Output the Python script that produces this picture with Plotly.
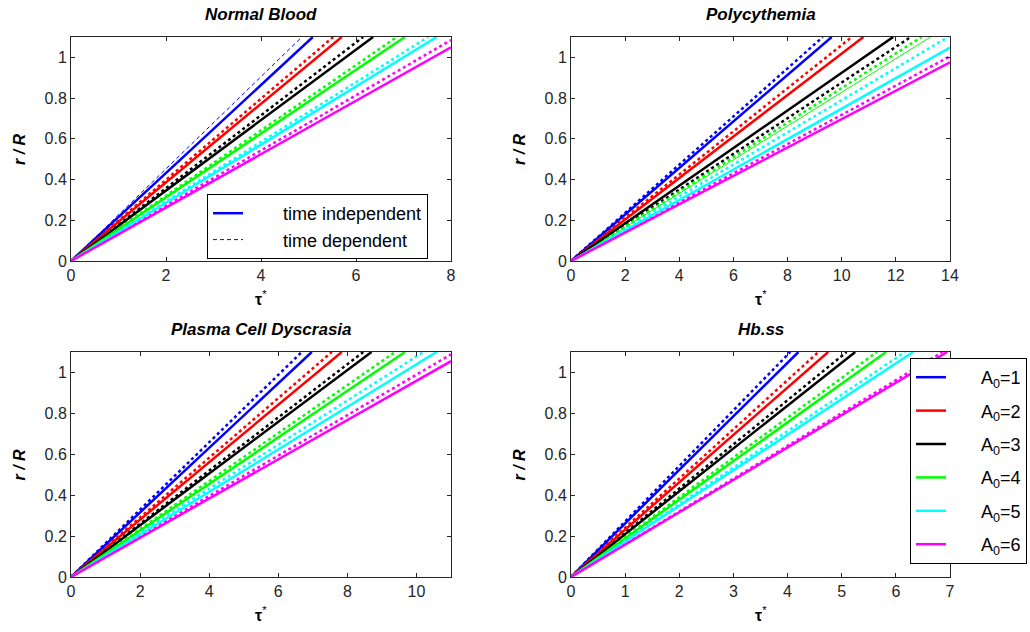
import plotly.graph_objects as go

# ---------------- data ----------------
A0 = [1, 2, 3, 4, 5, 6]
colors = ["#0000FF", "#FF0000", "#000000", "#00FF00", "#00FFFF", "#FF00FF"]

# end points of each straight line (start at the origin)
# Normal Blood
nb_ti_x = [5.09, 5.70, 6.36, 7.03, 7.70, 8.00]
nb_ti_y = [1.10, 1.10, 1.10, 1.10, 1.10, 1.049]
nb_td_x = [4.86, 5.52, 6.15, 6.86, 7.52, 8.00]
nb_td_y = [1.10, 1.10, 1.10, 1.10, 1.10, 1.085]
# Polycythemia
po_ti_x = [9.63, 10.80, 11.90, 13.28, 14.00, 14.00]
po_ti_y = [1.10, 1.10, 1.10, 1.10, 1.048, 0.975]
po_td_x = [9.30, 10.37, 12.55, 12.95, 13.93, 14.00]
po_td_y = [1.10, 1.10, 1.10, 1.10, 1.10, 1.005]
# Plasma Cell Dyscrasia
pc_ti_x = [6.97, 7.84, 8.70, 9.67, 10.58, 11.00]
pc_ti_y = [1.10, 1.10, 1.10, 1.10, 1.10, 1.055]
pc_td_x = [6.68, 7.55, 8.46, 9.38, 10.20, 11.00]
pc_td_y = [1.10, 1.10, 1.10, 1.10, 1.10, 1.088]
# Hb.ss
hb_ti_x = [4.20, 4.75, 5.25, 5.82, 6.32, 6.95]
hb_ti_y = [1.10, 1.10, 1.10, 1.10, 1.10, 1.10]
hb_td_x = [4.05, 4.57, 5.09, 5.65, 6.17, 6.86]
hb_td_y = [1.10, 1.10, 1.10, 1.10, 1.10, 1.10]

titles = ["Normal Blood", "Polycythemia", "Plasma Cell Dyscrasia", "Hb.ss"]
x_max = [8, 14, 11, 7]
x_dtick = [2, 2, 2, 1]
y_ticks = [0, 0.2, 0.4, 0.6, 0.8, 1]
y_ticklabels = ["0", "0.2", "0.4", "0.6", "0.8", "1"]

panels = [
    (nb_ti_x, nb_ti_y, nb_td_x, nb_td_y),
    (po_ti_x, po_ti_y, po_td_x, po_td_y),
    (pc_ti_x, pc_ti_y, pc_td_x, pc_td_y),
    (hb_ti_x, hb_ti_y, hb_td_x, hb_td_y),
]

# ---------------- figure ----------------
W, H = 1030, 632
FONT = "Liberation Sans, Arial, Helvetica, sans-serif"
PAD1 = "\u00a0" * 7
PAD2 = "\u00a0" * 6
fig = go.Figure()

# pixel boxes of the four axes (left, right, top, bottom)
boxes = [(71, 451, 37, 261), (571, 950, 37, 261), (71, 451, 352, 577), (571, 950, 352, 577)]

for p, (tix, tiy, tdx, tdy) in enumerate(panels):
    xa = "x" if p == 0 else f"x{p+1}"
    ya = "y" if p == 0 else f"y{p+1}"
    # dotted (time dependent)
    for k in range(6):
        if p == 0 and k == 0:
            line = dict(color=colors[k], width=1, dash="4px,3px")
            fig.add_trace(go.Scatter(x=[0, tdx[k]], y=[0, tdy[k]], mode="lines", line=line,
                                     xaxis=xa, yaxis=ya, name=PAD1 + "time dependent",
                                     legend="legend", legendgroup="td", legendrank=2,
                                     showlegend=True, hoverinfo="skip"))
        else:
            line = dict(color=colors[k], width=2.5, dash="dot")
            fig.add_trace(go.Scatter(x=[0, tdx[k]], y=[0, tdy[k]], mode="lines", line=line,
                                     xaxis=xa, yaxis=ya, showlegend=False, hoverinfo="skip"))
    # solid (time independent)
    for k in range(6):
        w = 1 if (p == 1 and k == 3) else 2.5
        line = dict(color=colors[k], width=w)
        if p == 0 and k == 0:
            fig.add_trace(go.Scatter(x=[0, tix[k]], y=[0, tiy[k]], mode="lines", line=line,
                                     xaxis=xa, yaxis=ya, name=PAD1 + "time independent",
                                     legend="legend", legendgroup="ti", legendrank=1,
                                     showlegend=True, hoverinfo="skip"))
        elif p == 3:
            fig.add_trace(go.Scatter(x=[0, tix[k]], y=[0, tiy[k]], mode="lines", line=line,
                                     xaxis=xa, yaxis=ya,
                                     name=PAD2 + f"A<sub>0</sub>={A0[k]}",
                                     legend="legend2", legendgroup=f"a{k}", legendrank=10 + k,
                                     showlegend=True, hoverinfo="skip"))
        else:
            fig.add_trace(go.Scatter(x=[0, tix[k]], y=[0, tiy[k]], mode="lines", line=line,
                                     xaxis=xa, yaxis=ya, showlegend=False, hoverinfo="skip"))

axis_common = dict(showline=True, linecolor="#262626", linewidth=1, mirror="ticks",
                   ticks="inside", ticklen=4, tickcolor="#262626", showgrid=False,
                   zeroline=False, automargin=False,
                   tickfont=dict(family=FONT, size=16, color="#262626"))

layout = {}
annotations = []
for p, (l, r, t, b) in enumerate(boxes):
    xk = "xaxis" if p == 0 else f"xaxis{p+1}"
    yk = "yaxis" if p == 0 else f"yaxis{p+1}"
    ya = "y" if p == 0 else f"y{p+1}"
    xa = "x" if p == 0 else f"x{p+1}"
    layout[xk] = dict(domain=[l / W, r / W], range=[0, x_max[p]], dtick=x_dtick[p],
                      tick0=0, anchor=ya, **axis_common)
    layout[yk] = dict(domain=[1 - b / H, 1 - t / H], range=[0, 1.1], tickvals=y_ticks,
                      ticktext=y_ticklabels, anchor=xa, **axis_common)
    cx = (l + r) / 2 / W
    annotations.append(dict(text=f"<b><i>{titles[p]}</i></b>", x=cx, y=1 - (t - 23) / H,
                            xref="paper", yref="paper", showarrow=False,
                            xanchor="center", yanchor="middle",
                            font=dict(family=FONT, size=17, color="#000000")))
    annotations.append(dict(text="<b>τ</b><sup>*</sup>", x=cx, y=1 - (b + 37) / H,
                            xref="paper", yref="paper", showarrow=False,
                            xanchor="center", yanchor="middle",
                            font=dict(family=FONT, size=16, color="#000000")))
    annotations.append(dict(text="<b><i>r / R</i></b>", x=(l - 52) / W, y=1 - (t + b) / 2 / H,
                            xref="paper", yref="paper", showarrow=False, textangle=-90,
                            xanchor="center", yanchor="middle",
                            font=dict(family=FONT, size=16, color="#000000")))

fig.update_layout(
    width=W, height=H,
    margin=dict(l=0, r=0, t=0, b=0, autoexpand=False),
    paper_bgcolor="white", plot_bgcolor="white",
    annotations=annotations,
    legend=dict(x=207 / W, y=1 - 194 / H, xanchor="left", yanchor="top",
                bgcolor="white", bordercolor="#000000", borderwidth=1,
                font=dict(family=FONT, size=18, color="#000000"), tracegroupgap=0,
                traceorder="grouped"),
    legend2=dict(x=910 / W, y=1 - 358 / H, xanchor="left", yanchor="top",
                 bgcolor="white", bordercolor="#000000", borderwidth=1,
                 font=dict(family=FONT, size=18, color="#000000"), tracegroupgap=7,
                 traceorder="grouped"),
    showlegend=True,
    **layout,
)

fig.write_html("out.html", config={"displayModeBar": False},
               post_script="document.body.style.margin='0px';document.body.style.overflow='hidden';")
